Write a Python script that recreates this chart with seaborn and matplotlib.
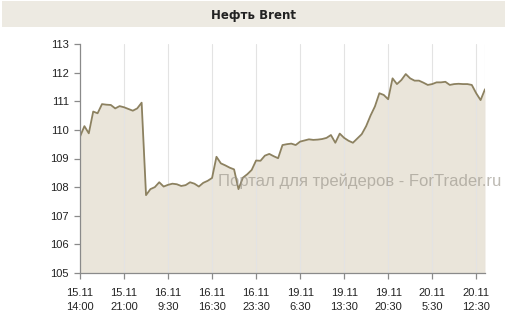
import numpy as np
import pandas as pd
import matplotlib
matplotlib.use("Agg")
import matplotlib.pyplot as plt
import seaborn as sns

title = "Нефть Brent"
watermark = "Портал для трейдеров - ForTrader.ru"

prices = [
    109.76, 110.13, 109.88, 110.64, 110.58, 110.90, 110.88, 110.87, 110.75, 110.83,
    110.79, 110.73, 110.67, 110.75, 110.95, 107.72, 107.93, 108.00, 108.17, 108.02,
    108.08, 108.12, 108.10, 108.04, 108.07, 108.17, 108.12, 108.02, 108.15, 108.22,
    108.32, 109.06, 108.83, 108.76, 108.68, 108.62, 107.93, 108.33, 108.45, 108.60,
    108.93, 108.92, 109.10, 109.16, 109.08, 109.01, 109.47, 109.50, 109.52, 109.47,
    109.59, 109.63, 109.67, 109.65, 109.66, 109.68, 109.72, 109.82, 109.55, 109.87,
    109.72, 109.62, 109.55, 109.70, 109.85, 110.13, 110.50, 110.82, 111.28, 111.22,
    111.07, 111.80, 111.60, 111.74, 111.95, 111.80, 111.72, 111.72, 111.65, 111.57,
    111.60, 111.66, 111.66, 111.68, 111.57, 111.60, 111.61, 111.60, 111.60, 111.57,
    111.28, 111.04, 111.42,
]
tick_labels = ["15.11\n14:00", "15.11\n21:00", "16.11\n9:30", "16.11\n16:30",
               "16.11\n23:30", "19.11\n6:30", "19.11\n13:30", "19.11\n20:30",
               "20.11\n5:30", "20.11\n12:30"]
y_ticks = [105, 106, 107, 108, 109, 110, 111, 112, 113]

df = pd.DataFrame({"idx": np.arange(len(prices)), "price": prices})

sns.set_theme(style="white")
plt.rcParams["font.family"] = ["Liberation Sans", "DejaVu Sans"]

W, H = 507, 333
fig = plt.figure(figsize=(W / 100, H / 100), dpi=100)
fig.patch.set_facecolor("white")

# title band
band = fig.add_axes([2 / W, 1 - 27 / H, 503 / W, 26 / H])
band.set_facecolor("#EDEAE2")
band.set_xticks([]); band.set_yticks([])
for s in band.spines.values():
    s.set_visible(False)
band.text(0.5, 0.45, title, ha="center", va="center", fontsize=8.5,
          fontweight="bold", color="#222222", family=["DejaVu Sans"])

ax = fig.add_axes([80 / W, (H - 273) / H, 405 / W, 229 / H])
ax.set_facecolor("white")
ax.fill_between(df["idx"], df["price"], 105, color="#EAE5DA", zorder=1, linewidth=0)
sns.lineplot(data=df, x="idx", y="price", ax=ax, color="#8C8160", linewidth=1.3, zorder=3)

tick_pos = list(range(0, len(prices), 10))
ax.set_xticks(tick_pos)
ax.set_xticklabels(tick_labels, fontsize=8, color="#222222", linespacing=1.45)
ax.set_yticks(y_ticks)
ax.set_yticklabels([str(v) for v in y_ticks], fontsize=8, color="#222222")
ax.set_xlim(0, 92)
ax.set_ylim(105, 113)
ax.set_xlabel(""); ax.set_ylabel("")
for p in tick_pos[1:]:
    ax.axvline(p, color="#E3E3E3", linewidth=0.8, zorder=2)
ax.axvline(92, color="#E3E3E3", linewidth=0.8, zorder=2)

for side in ["top", "right"]:
    ax.spines[side].set_visible(False)
for side in ["left", "bottom"]:
    ax.spines[side].set_color("#8A8A8A")
    ax.spines[side].set_linewidth(0.9)
    ax.spines[side].set_zorder(4)
ax.tick_params(axis="both", which="major", length=4, width=0.9, color="#8A8A8A",
               direction="out", bottom=True, left=True)
ax.tick_params(axis="x", pad=7)
ax.tick_params(axis="y", pad=4)

fig.text(218 / W, 1 - 181 / H, watermark, ha="left", va="center", fontsize=12,
         color="#9A958B", alpha=0.65, zorder=10, family=["Liberation Sans"])

fig.savefig("out.png", dpi=100)
